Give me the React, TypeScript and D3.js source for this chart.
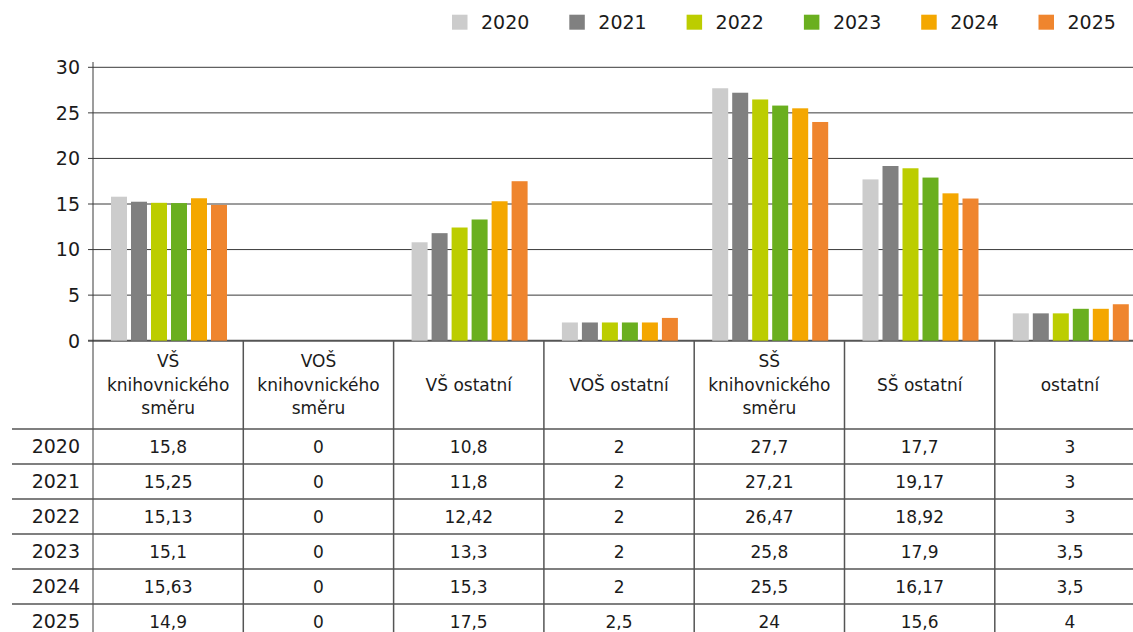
import React from "react";
import * as d3 from "d3";

const categories = [
  "VŠ knihovnického směru",
  "VOŠ knihovnického směru",
  "VŠ ostatní",
  "VOŠ ostatní",
  "SŠ knihovnického směru",
  "SŠ ostatní",
  "ostatní",
];
const categoryLines = [
  ["VŠ", "knihovnického", "směru"],
  ["VOŠ", "knihovnického", "směru"],
  ["VŠ ostatní"],
  ["VOŠ ostatní"],
  ["SŠ", "knihovnického", "směru"],
  ["SŠ ostatní"],
  ["ostatní"],
];
const years = ["2020", "2021", "2022", "2023", "2024", "2025"];
const colors = ["#cccccc", "#808080", "#bccd00", "#6aaf1f", "#f4a700", "#ef852e"];

const v2020 = [15.8, 0, 10.8, 2, 27.7, 17.7, 3];
const v2021 = [15.25, 0, 11.8, 2, 27.21, 19.17, 3];
const v2022 = [15.13, 0, 12.42, 2, 26.47, 18.92, 3];
const v2023 = [15.1, 0, 13.3, 2, 25.8, 17.9, 3.5];
const v2024 = [15.63, 0, 15.3, 2, 25.5, 16.17, 3.5];
const v2025 = [14.9, 0, 17.5, 2.5, 24, 15.6, 4];
const series = [v2020, v2021, v2022, v2023, v2024, v2025];
const yTicks = [0, 5, 10, 15, 20, 25, 30];

const W = 1133;
const H = 632;
const FONT = "'DejaVu Sans', sans-serif";
const fmt = (v: number) => String(v).replace(".", ",");

export default function App() {
  const bandW = 150.3;
  const x0 = 93;
  const x = d3
    .scaleBand<string>()
    .domain(categories)
    .range([x0, x0 + bandW * categories.length]);
  const xi = d3.scaleBand<string>().domain(years).range([18, 134]).paddingInner(0.2);
  const y = d3.scaleLinear().domain([0, 30]).range([340.7, 67.3]);
  const legendX = d3.scalePoint<string>().domain(years).range([452, 452 + 117.3 * 5]);

  const headerTop = y(0);
  const headerBottom = 429;
  const rowH = 35;
  const textColor = "#1b1b1b";
  const gridColor = "#3a3a3a";
  const tableColor = "#555";

  return (
    <div style={{ position: "fixed", left: 0, top: 0 }}>
      <svg width={W} height={H} style={{ display: "block", background: "#fff" }} fontFamily={FONT}>
        {/* legend */}
        {years.map((yr, i) => {
          const lx = legendX(yr) as number;
          return (
            <g key={yr}>
              <rect x={lx} y={14.7} width={15.5} height={15} fill={colors[i]} />
              <text x={lx + 29} y={29} fontSize={19} fill={textColor}>
                {yr}
              </text>
            </g>
          );
        })}

        {/* gridlines & ticks */}
        {yTicks.map((t) => (
          <g key={t}>
            <line
              x1={88}
              x2={W}
              y1={y(t)}
              y2={y(t)}
              stroke={t === 0 ? "#555" : gridColor}
              strokeWidth={t === 0 ? 2 : 1}
            />
            <text
              x={80}
              y={y(t)}
              dy="0.36em"
              textAnchor="end"
              fontSize={19}
              fill={textColor}
            >
              {t}
            </text>
          </g>
        ))}

        {/* bars */}
        {categories.map((c, ci) => (
          <g key={c} transform={`translate(${x(c)},0)`}>
            {series.map((s, si) =>
              s[ci] > 0 ? (
                <rect
                  key={si}
                  x={xi(years[si])}
                  y={y(s[ci])}
                  width={xi.bandwidth()}
                  height={y(0) - y(s[ci])}
                  fill={colors[si]}
                />
              ) : null
            )}
          </g>
        ))}

        {/* y axis line */}
        <line x1={x0} x2={x0} y1={62} y2={H} stroke={gridColor} strokeWidth={1} />

        {/* table vertical lines */}
        {categories.map((c, ci) =>
          ci > 0 ? (
            <line
              key={c}
              x1={x(c)}
              x2={x(c)}
              y1={headerTop}
              y2={H}
              stroke={tableColor}
              strokeWidth={1.5}
            />
          ) : null
        )}

        {/* table horizontal lines */}
        {years.map((yr, i) => (
          <line
            key={yr}
            x1={12}
            x2={W}
            y1={headerBottom + i * rowH}
            y2={headerBottom + i * rowH}
            stroke={tableColor}
            strokeWidth={1.5}
          />
        ))}

        {/* header labels */}
        {categories.map((c, ci) => {
          const lines = categoryLines[ci];
          const cx = (x(c) as number) + bandW / 2;
          const mid = (headerTop + headerBottom) / 2;
          const lh = 23.5;
          return (
            <text key={c} textAnchor="middle" fontSize={17} fill={textColor}>
              {lines.map((ln, li) => (
                <tspan
                  key={li}
                  x={cx}
                  y={mid + (li - (lines.length - 1) / 2) * lh}
                  dy="0.36em"
                >
                  {ln}
                </tspan>
              ))}
            </text>
          );
        })}

        {/* table rows */}
        {years.map((yr, si) => {
          const cy = headerBottom + si * rowH + rowH / 2;
          return (
            <g key={yr}>
              <text x={80} y={cy} dy="0.36em" textAnchor="end" fontSize={19} fill={textColor}>
                {yr}
              </text>
              {categories.map((c, ci) => (
                <text
                  key={c}
                  x={(x(c) as number) + bandW / 2}
                  y={cy}
                  dy="0.36em"
                  textAnchor="middle"
                  fontSize={17}
                  fill={textColor}
                >
                  {fmt(series[si][ci])}
                </text>
              ))}
            </g>
          );
        })}
      </svg>
    </div>
  );
}
